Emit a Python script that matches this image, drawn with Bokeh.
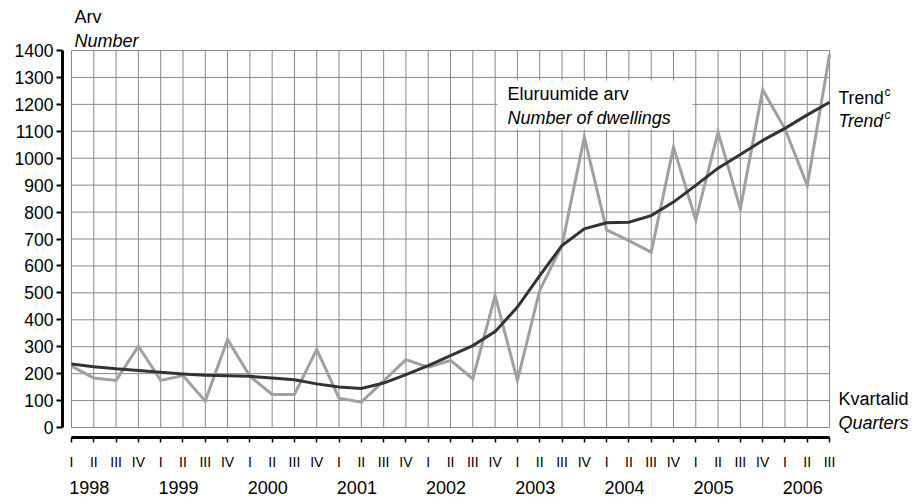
from bokeh.plotting import figure
from bokeh.models import Range1d, FixedTicker, LinearAxis, Label, BoxAnnotation
from bokeh.embed import file_html
from bokeh.resources import INLINE

# ---- data ----
years = ["1998", "1999", "2000", "2001", "2002", "2003", "2004", "2005", "2006"]
quarters = ["I", "II", "III", "IV"]
quarter_labels = [q for y in years for q in quarters][:35]
dwellings = [228, 184, 175, 302, 175, 193, 98, 327, 190, 123, 123, 290,
             109, 94, 173, 252, 224, 249, 181, 490, 175, 509, 676, 1078,
             734, 694, 651, 1041, 771, 1097, 812, 1254, 1109, 899, 1385]
trend = [236, 226, 218, 212, 205, 199, 194, 192, 190, 184, 177, 162,
         150, 145, 165, 196, 230, 267, 304, 356, 447, 564, 676, 738,
         760, 762, 787, 837, 899, 963, 1014, 1066, 1111, 1161, 1208]
y_ticks = list(range(0, 1500, 100))

x = list(range(len(quarter_labels)))
xmax = x[-1]
FONT = "Liberation Sans"

p = figure(width=912, height=497,
           x_range=Range1d(-0.4037, 37.72), y_range=Range1d(-37.13, 1585.7),
           output_backend="svg", toolbar_location=None,
           min_border_left=62, min_border_right=0,
           min_border_top=0, min_border_bottom=60)
p.outline_line_color = None
p.xgrid.visible = False
p.ygrid.visible = False

# grid
p.segment(x0=x, y0=[y_ticks[0]] * len(x), x1=x, y1=[y_ticks[-1]] * len(x),
          line_color="#888888", line_width=1)
p.segment(x0=[0] * len(y_ticks), y0=y_ticks, x1=[xmax] * len(y_ticks), y1=y_ticks,
          line_color="#888888", line_width=1)

# series
p.line(x, dwellings, line_color="#a0a0a0", line_width=3, line_join="miter")
p.line(x, trend, line_color="#333333", line_width=3, line_join="miter")

# axes
xa = p.xaxis[0]
xa.ticker = FixedTicker(ticks=x)
xa.major_label_overrides = {i: quarter_labels[i] for i in x}
xa.bounds = (0, xmax)
xa.axis_line_width = 3
xa.axis_line_color = "black"
xa.major_tick_line_width = 1.5
xa.major_tick_line_color = "black"
xa.major_tick_out = 5
xa.major_tick_in = 0
xa.minor_tick_line_color = None
xa.major_label_text_font = FONT
xa.major_label_text_font_size = "14px"
xa.major_label_text_color = "black"
xa.major_label_standoff = 11

year_pos = [round(4 * i + 0.8, 2) for i in range(len(years))]
ya2 = LinearAxis(ticker=FixedTicker(ticks=year_pos),
                 major_label_overrides={year_pos[i]: years[i] for i in range(len(years))})
ya2.axis_line_color = None
ya2.major_tick_line_color = None
ya2.minor_tick_line_color = None
ya2.major_label_text_font = FONT
ya2.major_label_text_font_size = "18px"
ya2.major_label_text_color = "black"
ya2.major_label_standoff = 2
p.add_layout(ya2, "below")

ya = p.yaxis[0]
ya.ticker = FixedTicker(ticks=y_ticks)
ya.bounds = (0, 1400)
ya.axis_line_width = 3
ya.axis_line_color = "black"
ya.major_tick_line_width = 2
ya.major_tick_line_color = "black"
ya.major_tick_out = 6
ya.major_tick_in = 0
ya.minor_tick_line_color = None
ya.major_label_text_font = FONT
ya.major_label_text_font_size = "17.5px"
ya.major_label_text_color = "black"
ya.major_label_standoff = 3

# annotations
def lab(text, xv, yv, xo, yo, size="18px", italic=False):
    p.add_layout(Label(x=xv, y=yv, x_offset=xo, y_offset=yo, text=text,
                       text_font=FONT, text_font_size=size,
                       text_font_style="italic" if italic else "normal",
                       text_align="left", text_baseline="middle",
                       text_color="black"))

lab("Arv", 0, 1400, 3, 34)
lab("Number", 0, 1400, 3, 10, italic=True)

p.add_layout(BoxAnnotation(left=19.11, right=27.86, bottom=1106.6, top=1288.6,
                           fill_color="white", fill_alpha=1.0, line_color=None))
lab("Eluruumide arv", 19.11, 1288.6, 10, -13)
lab("Number of dwellings", 19.11, 1288.6, 10, -37, italic=True)

lab("Trend", xmax, 1400, 9, -47, size="17.5px")
lab("c", xmax, 1400, 55, -41, size="12px")
lab("Trend", xmax, 1400, 9, -70, size="17.5px", italic=True)
lab("c", xmax, 1400, 55, -64, size="12px", italic=True)
lab("Kvartalid", xmax, 0, 9, 29)
lab("Quarters", xmax, 0, 9, 5, italic=True)

open("out.html", "w").write(file_html(p, INLINE))
